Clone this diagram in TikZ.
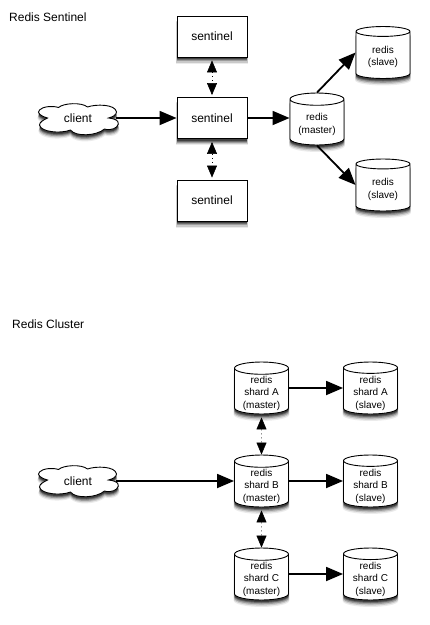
\documentclass[tikz,border=0pt]{standalone}
\usepackage{fontspec}
\setmainfont{Liberation Sans}
\usetikzlibrary{shapes.geometric,shadows,arrows.meta}
\newcommand{\cyltext}[1]{\raisebox{-4.5pt}[0pt][0pt]{\begin{tabular}{@{}c@{}}#1\end{tabular}}}
\tikzset{
  softshadow/.style={
    general shadow={shadow xshift=0pt,shadow yshift=-6pt,shadow scale=1.03,fill=black,opacity=.08},
    general shadow={shadow xshift=0pt,shadow yshift=-5pt,shadow scale=1.02,fill=black,opacity=.14},
    general shadow={shadow xshift=0pt,shadow yshift=-4pt,shadow scale=1.01,fill=black,opacity=.22},
    general shadow={shadow xshift=0pt,shadow yshift=-3pt,shadow scale=1.0,fill=black,opacity=.3},
    general shadow={shadow xshift=0pt,shadow yshift=-2pt,shadow scale=1.0,fill=black,opacity=.4}},
  sentbox/.style={draw=black,line width=.9pt,fill=white,minimum width=70pt,minimum height=41pt,inner sep=0pt,font=\fontsize{12}{14}\selectfont,softshadow},
  store/.style={cylinder,anchor=shape center,shape border rotate=90,shape aspect=.33,draw=black,line width=.9pt,fill=white,minimum width=54pt,minimum height=52pt,inner sep=0pt,align=center,font=\fontsize{10}{12.5}\selectfont,softshadow},
  cloudtext/.style={minimum width=76pt,minimum height=30pt,inner sep=0pt,font=\fontsize{12}{14}\selectfont},
  title/.style={anchor=base west,inner sep=0pt,font=\fontsize{12}{14}\selectfont},
  solidarrow/.style={line width=1.8pt,-{Triangle[length=17pt,width=14pt]}},
  syncarrow/.style={line width=.5pt,dash pattern=on 1pt off 3pt,{Triangle[length=12pt,width=10pt,sep=0pt]}-{Triangle[length=12pt,width=10pt]}},
}
\newcommand{\cloudoutline}[2]{%
  \draw[line width=.9pt,fill=white,shift={(#1,#2)},softshadow]
    (-31,-1) .. controls (-38,-3) and (-42,-6) .. (-39,-9)
    .. controls (-36,-12.5) and (-26,-13.5) .. (-20,-11.5)
    .. controls (-15,-16) and (3,-17) .. (9,-12)
    .. controls (17,-15) and (37,-15) .. (38,-7)
    .. controls (38,-4) and (34,-2) .. (30,-1)
    .. controls (40,0) and (42,4) .. (38,8)
    .. controls (35,11) and (28,11) .. (26,10)
    .. controls (18,17) and (-3,18) .. (-8,11)
    .. controls (-18,15) and (-38,13) .. (-39,6)
    .. controls (-39,3) and (-35,1) .. (-31,-1) -- cycle;}
\begin{document}
\begin{tikzpicture}[x=1pt,y=-1pt]
\useasboundingbox (0,0) rectangle (430,625);
\fill[white] (0,0) rectangle (430,625);
\node[title] (t1) at (9,21) {Redis Sentinel};
\node[title] (t2) at (12,328) {Redis Cluster};

\cloudoutline{78.5}{119}
\node[cloudtext] (c1) at (78,118) {client};
\node[sentbox] (s1) at (212,36.5) {sentinel};
\node[sentbox] (s2) at (212,118) {sentinel};
\node[sentbox] (s3) at (212,200.5) {sentinel};
\node[store] (m) at (317,119) {\cyltext{redis\\(master)}};
\node[store] (r1) at (383,52.5) {\cyltext{redis\\(slave)}};
\node[store] (r2) at (383,185) {\cyltext{redis\\(slave)}};

\draw[solidarrow] (c1.east) -- (s2.west);
\draw[solidarrow] (s2.east) -- (m.west |- s2.east);
\draw[solidarrow] (m.north) -- (r1.west |- r1.shape center);
\draw[solidarrow] (m.south) -- (r2.west |- r2.shape center);
\draw[syncarrow,shorten <=3pt,shorten >=2pt] (s1.south) -- (s2.north);
\draw[syncarrow,shorten <=3pt,shorten >=2pt] (s2.south) -- (s3.north);

\cloudoutline{78.5}{481}
\node[cloudtext] (c2) at (78,481) {client};
\node[store] (a) at (261.5,388) {\cyltext{redis\\shard A\\(master)}};
\node[store] (b) at (261.5,481) {\cyltext{redis\\shard B\\(master)}};
\node[store] (c) at (261.5,574) {\cyltext{redis\\shard C\\(master)}};
\node[store] (ra) at (370.5,388) {\cyltext{redis\\shard A\\(slave)}};
\node[store] (rb) at (370.5,481) {\cyltext{redis\\shard B\\(slave)}};
\node[store] (rc) at (370.5,574) {\cyltext{redis\\shard C\\(slave)}};

\draw[solidarrow] (c2.east) -- (b.west |- b.shape center);
\draw[solidarrow] (a.east |- a.shape center) -- (ra.west |- ra.shape center);
\draw[solidarrow] (b.east |- b.shape center) -- (rb.west |- rb.shape center);
\draw[solidarrow] (c.east |- c.shape center) -- (rc.west |- rc.shape center);
\draw[syncarrow,shorten <=3pt] (a.south) -- (b.north);
\draw[syncarrow,shorten <=3pt] (b.south) -- (c.north);
\end{tikzpicture}
\end{document}
